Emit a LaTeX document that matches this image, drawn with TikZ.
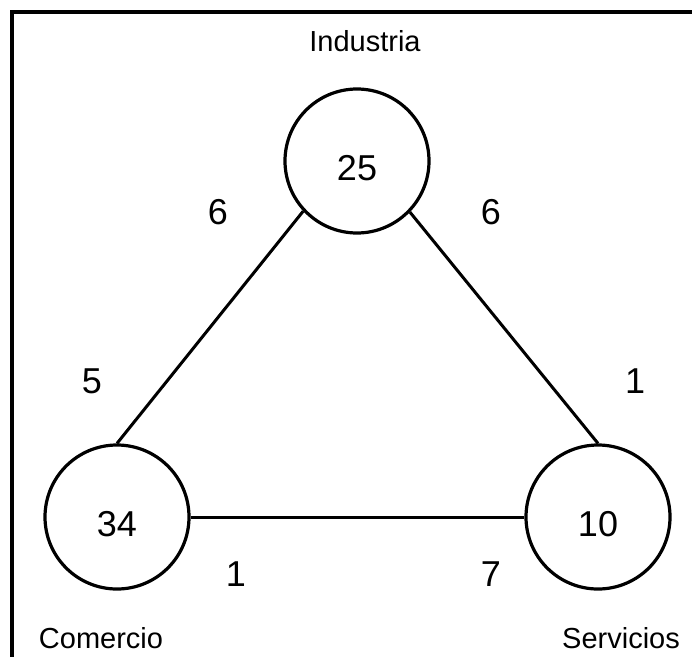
\documentclass[tikz,border=0pt]{standalone}
\usepackage{fontspec}
\setmainfont{Liberation Sans}
\begin{document}
\begin{tikzpicture}[x=1pt,y=-1pt,
  sector/.style={circle,draw,line width=3.2pt,minimum size=144pt,inner sep=0pt,
    font=\fontsize{36}{36}\selectfont,text height=38pt,text depth=0pt},
  link/.style={line width=3pt},
  weight/.style={font=\fontsize{36}{36}\selectfont,inner sep=0pt},
  sectorlabel/.style={font=\fontsize{29}{29}\selectfont,inner sep=0pt}]
\useasboundingbox (0,0) rectangle (692,656);
\draw[line width=3.3pt] (12,700) -- (12,12) -- (720,12);
\node[sector] (ind) at (357,161) {25};
\node[sector] (com) at (117,517) {34};
\node[sector] (ser) at (598,517) {10};
\draw[link] (com.north) -- (ind.223);
\draw[link] (ser.north) -- (ind.316);
\draw[link] (com.east) -- (ser.west);
\node[sectorlabel] (lind) at (365,41) {Industria};
\node[sectorlabel] (lcom) at (101,638) {Comercio};
\node[sectorlabel] (lser) at (621,638) {Servicios};
\node[weight] (w1) at (218,212) {6};
\node[weight] (w2) at (491,212) {6};
\node[weight] (w3) at (92,381) {5};
\node[weight] (w4) at (635,381) {1};
\node[weight] (w5) at (236,574) {1};
\node[weight] (w6) at (491,574) {7};
\end{tikzpicture}
\end{document}
